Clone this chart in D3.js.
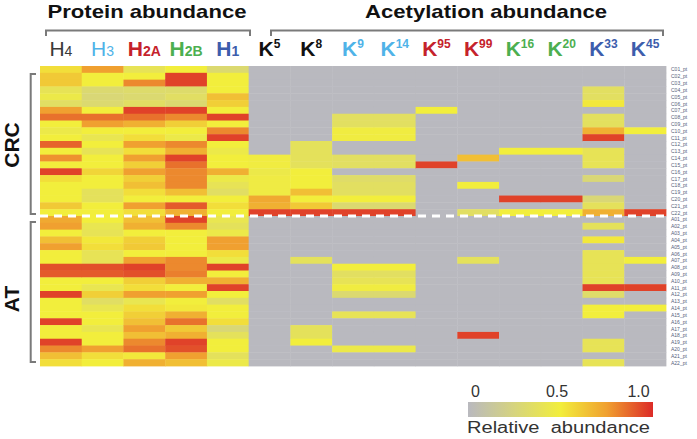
<!DOCTYPE html>
<html>
<head>
<meta charset="utf-8">
<script src="https://cdn.jsdelivr.net/npm/d3@7"></script>
<style>
  body { margin: 0; background: #fff; }
  svg { display: block; font-family: "Liberation Sans", Arial, sans-serif; }
</style>
</head>
<body>
<div id="chart"></div>
<script>
// ---- data ----
const columns = ["H4", "H3", "H2A", "H2B", "H1", "K5", "K8", "K9", "K14", "K95", "K99", "K16", "K20", "K33", "K45"];
const colBase = ["H", "H", "H", "H", "H", "K", "K", "K", "K", "K", "K", "K", "K", "K", "K"];
const colIndex = ["4", "3", "2A", "2B", "1", "5", "8", "9", "14", "95", "99", "16", "20", "33", "45"];
const groups = ["CRC", "AT"];
const rowsPerGroup = 22;
const rowLabels = d3.range(rowsPerGroup * 2).map(i =>
  (i < rowsPerGroup ? "C" : "A") + String((i % rowsPerGroup) + 1).padStart(2, "0") + "_pt");

// protein abundance (CRC rows then AT rows)
const h4 = [0.55,0.62,0.62,0.4,0.45,0.35,0.75,0.85,0.5,0.45,0.5,0.88,0.5,0.78,0.5,0.95,0.55,0.5,0.5,0.5,0.62,0.5,
            0.72,0.75,0.5,0.65,0.75,0.5,0.5,0.92,0.9,0.5,0.5,0.95,0.5,0.5,0.5,0.95,0.5,0.5,0.95,0.8,0.65,0.55];
const h3 = [0.75,0.5,0.5,0.3,0.28,0.3,0.5,0.85,0.75,0.5,0.42,0.5,0.4,0.5,0.5,0.58,0.5,0.5,0.38,0.38,0.5,0.5,
            0.5,0.42,0.4,0.52,0.55,0.4,0.4,0.92,0.9,0.5,0.42,0.6,0.35,0.42,0.5,0.5,0.42,0.5,0.5,0.75,0.55,0.5];
const h2a = [0.4,0.5,0.8,0.32,0.3,0.35,0.95,0.85,0.7,0.5,0.55,0.75,0.55,0.75,0.6,0.75,0.6,0.65,0.55,0.5,0.75,0.55,
             0.65,0.7,0.5,0.6,0.62,0.5,0.75,0.95,0.92,0.6,0.55,0.75,0.42,0.55,0.6,0.65,0.75,0.65,0.8,0.85,0.52,0.7];
const h2b = [0.5,0.95,0.95,0.32,0.35,0.3,0.95,0.8,0.6,0.5,0.45,0.8,0.7,0.95,0.85,0.8,0.8,0.8,0.65,0.5,0.9,0.7,
             0.95,0.8,0.5,0.5,0.5,0.5,0.8,0.8,0.82,0.7,0.5,0.75,0.5,0.52,0.7,0.85,0.62,0.7,0.95,0.92,0.75,0.65];
const h1 = [0.3,0.5,0.5,0.5,0.65,0.6,0.5,0.95,0.5,0.8,0.95,0.5,0.45,0.5,0.5,0.7,0.45,0.4,0.35,0.5,0.55,0.5,
            0.42,0.38,0.45,0.75,0.75,0.55,0.45,0.95,0.5,0.7,0.95,0.5,0.35,0.5,0.5,0.55,0.28,0.38,0.5,0.5,0.38,0.45];

// acetylation abundance (0 = not detected)
const k5 = [0,0,0,0,0,0,0,0,0,0,0,0,0,0.48,0.48,0.45,0.47,0.47,0.47,0.72,0.7,0.95,
            0,0,0,0,0,0,0,0,0,0,0,0,0,0,0,0,0,0,0,0,0,0];
const k8 = [0,0,0,0,0,0,0,0,0,0,0,0.38,0.38,0.38,0.38,0.5,0.5,0.5,0.65,0.5,0.62,0.95,
            0,0,0,0,0,0,0.38,0,0,0,0,0,0,0,0,0,0.38,0.38,0.5,0,0,0];
const k9k14 = [0,0,0,0,0,0,0,0.36,0.36,0.48,0.48,0,0,0.36,0.36,0,0.33,0.36,0.36,0.5,0.3,0.95,
               0,0,0,0,0,0,0,0.5,0.36,0.4,0.48,0.3,0,0,0.4,0,0,0,0,0.45,0,0];
const k95 = [0,0,0,0,0,0,0.5,0,0,0,0,0,0,0,0.95,0,0,0,0,0,0,0,
             0,0,0,0,0,0,0,0,0,0,0,0,0,0,0,0,0,0,0,0,0,0];
const k99 = [0,0,0,0,0,0,0,0,0,0,0,0,0,0.65,0,0,0,0.5,0,0,0,0.35,
             0,0,0,0,0,0,0.38,0,0,0,0,0,0,0,0,0,0,0.95,0,0,0,0];
const k16k20 = [0,0,0,0,0,0,0,0,0,0,0,0,0.5,0,0,0,0,0,0,0.95,0,0.5,
                0,0,0,0,0,0,0,0,0,0,0,0,0,0,0,0,0,0,0,0,0,0];
const k33 = [0,0,0,0.36,0.36,0.52,0,0.37,0.37,0.7,0.95,0,0.4,0.4,0.4,0,0.28,0,0,0.28,0.38,0.7,
             0,0.38,0,0.52,0,0.4,0.4,0.4,0.4,0.4,0.95,0.33,0,0.5,0.5,0,0,0,0.4,0.4,0,0.4];
const k45 = [0,0,0,0,0,0,0,0,0,0.5,0,0,0,0,0,0,0,0,0,0,0,0.95,
             0,0,0,0,0,0,0.5,0,0,0,0.95,0,0,0.5,0,0,0,0,0,0,0,0];

const series = [h4, h3, h2a, h2b, h1, k5, k8, k9k14, k9k14, k95, k99, k16k20, k16k20, k33, k45];
const legendTicks = [0, 0.5, 1];

// ---- styles ----
const width = 697, height = 439;
const labelColor = {
  H4: "#3a3a3a", H3: "#4fb3e8", H2A: "#c5222b", H2B: "#4caf50", H1: "#3d5dac",
  K5: "#111", K8: "#111", K9: "#4fb3e8", K14: "#4fb3e8", K95: "#c5222b", K99: "#c5222b",
  K16: "#4caf50", K20: "#4caf50", K33: "#3d5dac", K45: "#3d5dac"
};
const color = d3.scaleLinear()
  .domain([0, 0.5, 0.75, 1])
  .range(["#b9b9bf", "#f2ee3c", "#f0a030", "#dc2b27"])
  .clamp(true);

const svg = d3.select("#chart").append("svg")
  .attr("width", width).attr("height", height)
  .attr("viewBox", `0 0 ${width} ${height}`);

const x = d3.scaleBand().domain(columns).range([40, 666]);
const y = d3.scaleBand().domain(d3.range(rowLabels.length)).range([66, 366]);

// heatmap cells
const cells = [];
columns.forEach((c, ci) => series[ci].forEach((v, ri) => cells.push({ c, ri, v })));
svg.append("g").selectAll("rect")
  .data(cells)
  .join("rect")
  .attr("x", d => x(d.c))
  .attr("y", d => y(d.ri))
  .attr("width", x.bandwidth() + 0.4)
  .attr("height", y.bandwidth() + 0.4)
  .attr("fill", d => color(d.v));

// dashed separator between groups
svg.append("line")
  .attr("x1", 40).attr("x2", 666)
  .attr("y1", y(rowsPerGroup)).attr("y2", y(rowsPerGroup))
  .attr("stroke", "#fff").attr("stroke-width", 3)
  .attr("stroke-dasharray", "8,6");

// column headers
const head = svg.append("g").selectAll("text")
  .data(columns)
  .join("text")
  .attr("x", d => x(d) + x.bandwidth() / 2)
  .attr("y", 56)
  .attr("text-anchor", "middle")
  .attr("fill", d => labelColor[d]);
head.append("tspan")
  .attr("font-size", 21)
  .attr("font-weight", (d, i) => i < 2 ? "normal" : "bold")
  .text((d, i) => colBase[i]);
head.append("tspan")
  .attr("font-weight", (d, i) => i < 2 ? "normal" : "bold")
  .attr("font-size", (d, i) => i < 5 ? 14 : 12)
  .attr("dy", (d, i) => i < 5 ? 0 : -8)
  .text((d, i) => colIndex[i]);

// titles + top brackets
const bracketColor = "#7a7a7a";
function topBracket(x1, x2, title, tx, tw) {
  svg.append("path")
    .attr("d", `M${x1},36V30.5H${x2}V36`)
    .attr("fill", "none").attr("stroke", bracketColor).attr("stroke-width", 2);
  svg.append("text")
    .attr("x", tx).attr("y", 18)
    .attr("text-anchor", "middle")
    .attr("font-size", 19).attr("font-weight", "bold").attr("fill", "#111")
    .attr("textLength", tw).attr("lengthAdjust", "spacingAndGlyphs")
    .text(title);
}
topBracket(46, 250, "Protein abundance", 147, 199);
topBracket(271, 663, "Acetylation abundance", 486, 242);

// side group labels + brackets
const sides = [
  { g: groups[0], y1: 74, y2: 214, cy: 145 },
  { g: groups[1], y1: 222, y2: 362, cy: 299 }
];
sides.forEach(s => {
  svg.append("path")
    .attr("d", `M36,${s.y1}H30.7V${s.y2}H36`)
    .attr("fill", "none").attr("stroke", bracketColor).attr("stroke-width", 2);
  svg.append("text")
    .attr("transform", `translate(19,${s.cy}) rotate(-90)`)
    .attr("text-anchor", "middle")
    .attr("font-size", 21).attr("font-weight", "bold").attr("fill", "#111")
    .text(s.g);
});

// row labels (tiny)
svg.append("g").selectAll("text")
  .data(rowLabels)
  .join("text")
  .attr("x", 671)
  .attr("y", (d, i) => y(i) + y.bandwidth() / 2 + 2)
  .attr("font-size", 5)
  .attr("fill", "#55607a")
  .text(d => d);

// legend
const defs = svg.append("defs");
const grad = defs.append("linearGradient").attr("id", "lg");
d3.range(0, 1.01, 0.05).forEach(t => {
  grad.append("stop").attr("offset", t).attr("stop-color", color(t));
});
svg.append("rect")
  .attr("x", 468).attr("y", 402).attr("width", 185).attr("height", 15)
  .attr("fill", "url(#lg)");
const lx = d3.scaleLinear().domain([0, 1]).range([475, 638]);
const legAxis = svg.append("g")
  .attr("transform", "translate(0,397)")
  .call(d3.axisTop(lx).tickValues(legendTicks).tickSize(0).tickPadding(0)
    .tickFormat(d => d === 0 ? "0" : d3.format(".1f")(d)));
legAxis.select(".domain").remove();
legAxis.selectAll("text")
  .attr("font-size", 16).attr("fill", "#333")
  .attr("font-family", "'Liberation Sans', Arial, sans-serif")
  .attr("dy", 0);
svg.append("text")
  .attr("x", 467).attr("y", 433)
  .attr("font-size", 16).attr("fill", "#333")
  .attr("textLength", 183).attr("lengthAdjust", "spacingAndGlyphs")
  .attr("xml:space", "preserve")
  .text("Relative  abundance");
</script>
</body>
</html>
